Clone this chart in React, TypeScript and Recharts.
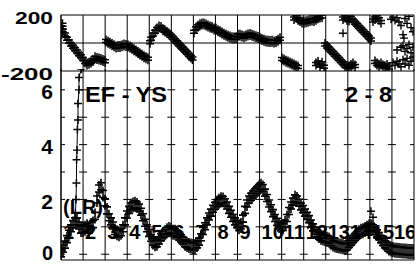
import { ReferenceLine, Scatter, ScatterChart, XAxis, YAxis } from "recharts";

const FONT = "'Liberation Sans', Arial, Helvetica, sans-serif";

// x runs in channel units: 16 IFs of ~11 channels each
const ifCount = 16;
const chanMax = 176.5;
const ifEdges = Array.from({ length: ifCount + 1 }, (_, k) => (k * chanMax) / ifCount);
const minorTicks = Array.from({ length: ifCount * 4 + 1 }, (_, k) => (k * chanMax) / (ifCount * 4));
const ifLabels = ["1", "2", "3", "4", "5", "6", "7", "8", "9", "10", "11", "12", "13", "14", "15", "16"];

const ampTicks = [0, 1, 2, 3, 4, 5, 6];
const phaseTicks = [-200, 0, 200];

// amplitude, one value per channel
const ampValues = [
  0.03, 0.2, 0.35, 0.55, 0.75, 0.95, 1.1, 1.2, 1.2, 1.05, 0.9,
  0.9, 0.95, 1.0, 0.9, 1.05, 1.1, 1.4, 2.0, 2.4, 2.48,
  2.2, 1.9, 1.6, 1.35, 1.2, 1.05, 0.85, 0.78, 0.75, 0.8,
  0.95, 1.2, 1.45, 1.62, 1.75, 1.8, 1.82, 1.78, 1.7, 1.55,
  1.35, 1.15, 0.95, 0.78, 0.6, 0.45, 0.38, 0.4, 0.5, 0.62,
  0.72, 0.78, 0.86, 0.9, 0.88, 0.8, 0.8, 0.75, 0.65, 0.58,
  0.5, 0.4, 0.36, 0.32, 0.3, 0.28, 0.28, 0.36, 0.46, 0.62,
  0.85, 1.02, 1.2, 1.38, 1.52, 1.66, 1.77, 1.86, 1.93, 1.99,
  1.98, 1.9, 1.78, 1.62, 1.48, 1.32, 1.2, 1.1, 1.0, 1.05,
  1.3, 1.62, 1.85, 2.0, 2.1, 2.18, 2.26, 2.34, 2.42, 2.48,
  2.42, 2.25, 2.05, 1.85, 1.68, 1.5, 1.32, 1.18, 1.05, 0.98,
  1.0, 1.12, 1.32, 1.58, 1.78, 1.92, 2.04, 2.0, 1.88, 1.74,
  1.65, 1.52, 1.4, 1.28, 1.12, 0.98, 0.86, 0.76, 0.68, 0.62,
  0.59, 0.57, 0.55, 0.52, 0.44, 0.37, 0.34, 0.32, 0.3, 0.29,
  0.27, 0.25, 0.28, 0.38, 0.46, 0.55, 0.63, 0.7, 0.78, 0.84,
  0.86, 0.9, 0.95, 0.99, 1.0, 0.95, 0.85, 0.76, 0.66, 0.55,
  0.45, 0.36, 0.3, 0.23, 0.19, 0.17, 0.15, 0.15, 0.14, 0.13,
  0.12, 0.12, 0.11, 0.1, 0.1, 0.1,
];

const ampSpike: [number, number][] = [
  [7.2, 1.5], [7.5, 2.0], [7.7, 2.6], [7.8, 3.45], [8.0, 3.8], [8.2, 4.55],
  [8.5, 4.9], [8.5, 5.5], [9.0, 6.0], [9.0, 6.45], [10.2, 6.76],
];
const ampOutliers: [number, number][] = [[155, 1.57], [156, 1.35]];

// phase, degrees
const phaseTrack: [number, number][] = [
  [0.25, 110], [0.5, 70], [0.75, 130], [1, 90], [2, 60], [3, 30], [4, 10], [5, -10], [6, -27],
  [7, -45], [8, -60], [9, -80], [10, -95], [11, -115], [12, -135], [13, -150], [14, -145],
  [15, -135], [16, -125], [17, -105], [18, -110], [19, -115], [20, -118], [21, -125], [22, -130],
  [22.5, 15], [23.5, 5], [24.5, -2], [25.5, -10], [26.5, -20], [27.5, -28], [28.5, -25],
  [29.5, -25], [30.5, -20], [31.5, -15], [32.5, -18], [33.5, -22], [34.5, -28], [35.5, -38],
  [36.5, -48], [37.5, -58], [38.5, -68], [39.5, -78], [40.5, -88], [41.5, -98], [42.5, -105],
  [43.5, -112], [44.5, 5], [45, 30], [46, 60], [47, 80], [48, 100], [49, 115], [50, 110],
  [51, 95], [52, 85], [53, 75], [54, 65], [55, 50], [56, 35], [57, 20], [58, 5], [59, -10],
  [60, -25], [61, -40], [62, -55], [63, -70], [64, -85], [65, -100], [65.75, -110],
  [66.5, 80], [67.5, 105], [68.5, 120], [69.5, 130], [70.5, 135], [71.5, 135], [72.5, 128],
  [73.5, 122], [74.5, 115], [75.5, 110], [76.5, 100], [77.5, 98], [78.5, 88], [79.5, 80],
  [80.5, 72], [81.5, 62], [82.5, 55], [83.5, 48], [84.5, 42], [85.5, 38], [86.5, 35],
  [87.5, 38], [88.5, 55], [89.5, 55], [90.5, 50], [91.5, 45], [92.5, 52], [93.5, 58],
  [94.5, 60], [95.5, 55], [96.5, 50], [97.5, 45], [98.5, 40], [99.5, 32], [100.5, 25],
  [101.5, 20], [102.5, 15], [103.5, 12], [104.5, 10], [105.5, 12], [106.5, 8], [107.5, 10],
  [108.5, 20], [109.5, 30],
];

const phaseLower: [number, number][] = [
  [110.5, -115], [111.5, -122], [112.5, -130], [113.5, -135], [114.5, -142], [115.5, -150],
  [116.5, -158], [117.5, -165], [118.5, -172], [127.5, -150], [128.5, -140], [129.5, -160],
  [130.5, -145], [131.5, -170], [132, -10], [133, -25], [134, -40], [135, -55], [136, -70],
  [137, -85], [138, -100], [139, -115], [140, -130], [141, -145], [142, -160], [143, -170],
  [144, -172], [145, -160], [146, -150], [147, -165], [157, -135], [158, -150], [159, -160],
  [160, -150], [161, -165], [162, -170], [163, -160], [164, -175],
];

const phaseUpper: [number, number][] = [
  [116.5, 175], [117.5, 185], [118.5, 170], [119.5, 160], [120.5, 150], [121.5, 148],
  [122.5, 152], [123.5, 155], [124.5, 160], [125.5, 165], [126.5, 160], [127.5, 170],
  [128.5, 180], [129.5, 185], [130.5, 190], [141, 175], [142, 185], [143, 170],
  [144, 165], [145, 178], [146, 160], [147, 145], [148, 130], [149, 115], [150, 100],
  [151, 85], [152, 70], [153, 55], [154, 40], [155, 25], [156, 160], [157, 175], [158, 185],
  [159, 170], [160, 150],
];

const phaseScatter: [number, number][] = [
  [141, 70], [165, 170], [166, 185], [167, 160], [168, 180], [169, 150], [170, 125], [171, 60],
  [172, 175], [173, 140], [174, 190], [175, 110], [176, 80], [168, -50], [170, -30], [171, -20],
  [172, -60], [173, -40], [174, -10], [175, -70], [176, -30], [171.5, 35], [166, -140],
  [167, -160], [168, -130], [169, -150], [170, -170], [171, -120], [172, -150], [173, -110],
  [174, -160], [175, -130], [176, -100],
];

const toPoints = (pairs: [number, number][]) => pairs.map(([x, y]) => ({ x, y }));
const ampData = ampValues.map((y, x) => ({ x, y }));
const gridMarks = ifEdges.flatMap((x) => ampTicks.map((y) => ({ x, y })));
const labelData = ifLabels.map((label, k) => ({ x: ifEdges[k], y: 0.55, label }));

function Plus({ cx, cy }: any) {
  if (cx == null || cy == null) return null;
  return <path d={`M${cx - 4},${cy}h8M${cx},${cy - 4}v8`} stroke="#000" strokeWidth={1.4} fill="none" />;
}

function makeStack(gap: number, width: number) {
  return function Stack({ cx, cy }: any) {
    if (cx == null || cy == null) return null;
    const d = [-gap, gap].map((o) => `M${cx - 4},${cy + o}h8M${cx},${cy + o - 4}v8`).join("");
    return <path d={d} stroke="#000" strokeWidth={width} fill="none" />;
  };
}
const AmpMark = makeStack(3.5, 1.6);
const PhaseMark = makeStack(1.5, 1.5);

function Dash({ cx, cy }: any) {
  if (cx == null || cy == null) return null;
  return <path d={`M${cx - 4},${cy}h8`} stroke="#000" strokeWidth={1} />;
}

function IfLabel({ cx, cy, payload }: any) {
  if (cx == null || cy == null) return null;
  return (
    <text x={cx + 2} y={cy} fontSize={20} fontWeight="bold" fontFamily={FONT} fill="#000">
      {payload.label}
    </text>
  );
}

function AmpTick({ y, payload }: any) {
  if (payload.value % 2 !== 0) return null;
  const isZero = payload.value === 0;
  return (
    <text
      x={53}
      y={y + (isZero ? 6 : 9.5)}
      textAnchor="end"
      fontSize={isZero ? 20 : 21}
      fontWeight="bold"
      fontFamily={FONT}
      fill="#000"
    >
      {payload.value}
    </text>
  );
}

function PhaseTick({ y, payload }: any) {
  if (payload.value === 0) return null;
  const text = String(payload.value);
  return (
    <text
      x={53}
      y={y + 9}
      textAnchor="end"
      fontSize={17}
      fontWeight="bold"
      fontFamily={FONT}
      fill="#000"
      textLength={text.length === 4 ? 52 : 38}
      lengthAdjust="spacingAndGlyphs"
    >
      {text}
    </text>
  );
}

export default function App() {
  const gridLines = ifEdges.map((x) => <ReferenceLine key={x} x={x} stroke="#000" strokeWidth={1} />);
  return (
    <div style={{ position: "fixed", left: 0, top: 0, width: 420, height: 264, background: "#fff" }}>
      <div style={{ position: "absolute", left: 0, top: 0 }}>
        <ScatterChart width={420} height={264} margin={{ top: 69, right: 6, bottom: 4, left: 60 }}>
          <XAxis
            dataKey="x"
            type="number"
            domain={[0, chanMax]}
            ticks={minorTicks}
            interval={0}
            tick={false}
            tickSize={5}
            mirror
            height={1}
            axisLine={{ stroke: "#000" }}
            tickLine={{ stroke: "#000" }}
            allowDataOverflow
          />
          <XAxis
            xAxisId="top"
            orientation="top"
            type="number"
            domain={[0, chanMax]}
            ticks={minorTicks}
            interval={0}
            tick={false}
            tickSize={4}
            mirror
            height={1}
            axisLine={false}
            tickLine={{ stroke: "#000" }}
            allowDataOverflow
          />
          <YAxis
            dataKey="y"
            type="number"
            domain={[-0.21, 6.76]}
            ticks={ampTicks}
            interval={0}
            width={1}
            tickLine={false}
            axisLine={{ stroke: "#000" }}
            tick={<AmpTick />}
            allowDataOverflow
          />
          {gridLines}
          <Scatter data={gridMarks} shape={<Dash />} isAnimationActive={false} />
          <Scatter data={labelData} shape={<IfLabel />} isAnimationActive={false} />
          <Scatter data={ampData} shape={<AmpMark />} isAnimationActive={false} />
          <Scatter
            data={toPoints(ampSpike)}
            shape={<Plus />}
            line={{ stroke: "#000", strokeWidth: 1 }}
            isAnimationActive={false}
          />
          <Scatter data={toPoints(ampOutliers)} shape={<Plus />} isAnimationActive={false} />
        </ScatterChart>
      </div>
      <div style={{ position: "absolute", left: 0, top: 0 }}>
        <ScatterChart width={420} height={92} margin={{ top: 15, right: 6, bottom: 21, left: 60 }}>
          <XAxis
            dataKey="x"
            type="number"
            domain={[0, chanMax]}
            ticks={minorTicks}
            interval={0}
            tick={false}
            tickSize={3}
            mirror
            height={1}
            axisLine={{ stroke: "#000" }}
            tickLine={{ stroke: "#000" }}
            allowDataOverflow
          />
          <XAxis
            xAxisId="top"
            orientation="top"
            type="number"
            domain={[0, chanMax]}
            ticks={minorTicks}
            interval={0}
            tick={false}
            tickSize={3}
            mirror
            height={1}
            axisLine={{ stroke: "#000" }}
            tickLine={{ stroke: "#000" }}
            allowDataOverflow
          />
          <YAxis
            dataKey="y"
            type="number"
            domain={[-200, 200]}
            ticks={phaseTicks}
            interval={0}
            width={1}
            tickLine={false}
            axisLine={{ stroke: "#000" }}
            tick={<PhaseTick />}
            allowDataOverflow
          />
          {gridLines}
          <ReferenceLine y={0} stroke="#000" strokeWidth={1} />
          <Scatter data={toPoints(phaseTrack)} shape={<PhaseMark />} isAnimationActive={false} />
          <Scatter data={toPoints(phaseLower)} shape={<PhaseMark />} isAnimationActive={false} />
          <Scatter data={toPoints(phaseUpper)} shape={<PhaseMark />} isAnimationActive={false} />
          <Scatter data={toPoints(phaseScatter)} shape={<Plus />} isAnimationActive={false} />
        </ScatterChart>
      </div>
      <svg width={420} height={264} style={{ position: "absolute", left: 0, top: 0, pointerEvents: "none" }}>
        <g fontFamily={FONT} fontWeight="bold" fill="#000">
          <text x={85} y={102} fontSize={22} textLength={82} lengthAdjust="spacingAndGlyphs">
            EF - YS
          </text>
          <text x={345} y={102} fontSize={22} textLength={47} lengthAdjust="spacingAndGlyphs">
            2 - 8
          </text>
          <text x={63} y={214} fontSize={20}>
            (LR)
          </text>
        </g>
      </svg>
    </div>
  );
}
